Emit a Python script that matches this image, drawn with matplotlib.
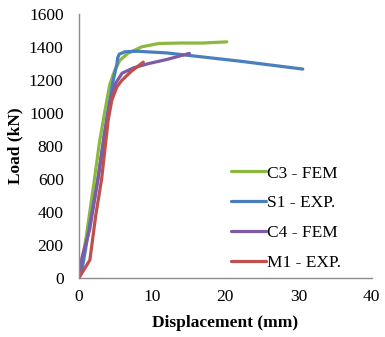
import matplotlib
matplotlib.use("Agg")
import matplotlib.pyplot as plt

plt.rcParams["font.family"] = ["Liberation Serif", "DejaVu Serif"]

# load-displacement curves
c3_x = [0, 1.0, 2.0, 2.8, 3.5, 4.2, 4.9, 5.6, 6.7, 8.6, 10.9, 14, 17, 20.2]
c3_y = [0, 250, 560, 820, 1000, 1170, 1260, 1320, 1363, 1402, 1422, 1425, 1425, 1432]

s1_x = [0, 0.5, 1.5, 2.6, 3.8, 4.6, 5.2, 5.3, 5.5, 6.3, 8.0, 12, 16, 22, 30.6]
s1_y = [0, 70, 330, 600, 958, 1180, 1300, 1335, 1357, 1372, 1375, 1365, 1345, 1315, 1267]

c4_x = [0, 0.4, 1.5, 2.6, 3.5, 4.2, 5.0, 5.9, 7.5, 9.5, 12, 15.1]
c4_y = [0, 120, 300, 600, 880, 1060, 1180, 1242, 1275, 1300, 1325, 1362]

m1_x = [0, 1.5, 2.3, 3.1, 4.0, 4.5, 5.2, 5.9, 7.2, 8.8]
m1_y = [0, 110, 380, 600, 958, 1079, 1160, 1200, 1255, 1309]

labels = ["C3 - FEM", "S1 - EXP.", "C4 - FEM", "M1 - EXP."]
colors = ["#8DB83F", "#4A7EBF", "#7D5BA6", "#C0504D"]

fig = plt.figure(figsize=(3.85, 3.37), dpi=100)
ax = fig.add_axes([0.205, 0.175, 0.76, 0.783])

for xs, ys, lab, c in zip([c3_x, s1_x, c4_x, m1_x], [c3_y, s1_y, c4_y, m1_y], labels, colors):
    ax.plot(xs, ys, color=c, lw=2.3, label=lab, solid_capstyle="round")

ax.set_xlim(0, 40)
ax.set_ylim(0, 1600)
ax.set_xticks([0, 10, 20, 30, 40])
ax.set_yticks(range(0, 1601, 200))
ax.tick_params(length=0, labelsize=12.5)
ax.tick_params(axis="y", pad=11)
ax.tick_params(axis="x", pad=8)
for s in ["top", "right"]:
    ax.spines[s].set_visible(False)
for s in ["left", "bottom"]:
    ax.spines[s].set_color("#8c8c8c")
    ax.spines[s].set_linewidth(1)

ax.set_xlabel("Displacement (mm)", fontsize=12.5, fontweight="bold", labelpad=7)
ax.set_ylabel("Load (kN)", fontsize=12.5, fontweight="bold", labelpad=4)

ax.legend(loc="upper left", bbox_to_anchor=(0.577, 0.535), bbox_transform=fig.transFigure,
          frameon=False, fontsize=12.5, handlelength=2.0, handletextpad=0.1,
          labelspacing=0.78, borderpad=0)

fig.savefig("out.png", dpi=100)
